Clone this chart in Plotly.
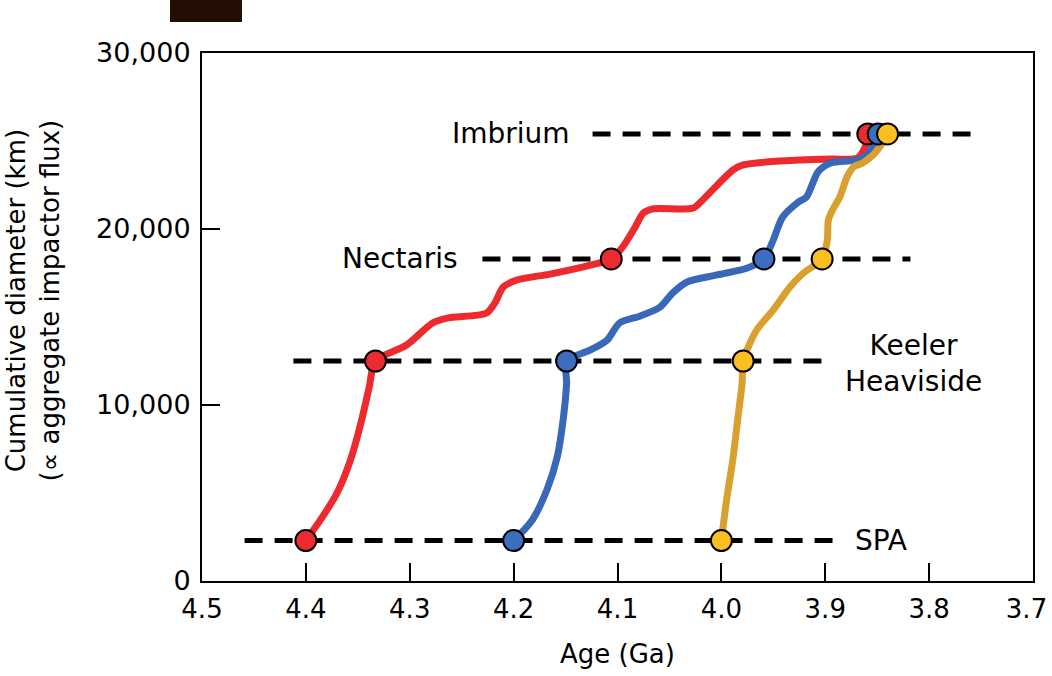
import plotly.graph_objects as go

# ---------------- data ----------------
basins = ["SPA", "Keeler Heaviside", "Nectaris", "Imbrium"]
basin_diam = [2300, 12500, 18300, 25400]
basin_line_start = [4.459, 4.412, 4.230, 4.124]
basin_line_end = [3.893, 3.893, 3.818, 3.753]

red_basin_age = [4.400, 4.333, 4.106, 3.859]
blue_basin_age = [4.200, 4.149, 3.959, 3.849]
yellow_basin_age = [4.000, 3.979, 3.903, 3.840]

red_age = [4.400, 4.386, 4.370, 4.357, 4.347, 4.339, 4.333, 4.303, 4.278, 4.264,
           4.226, 4.218, 4.210, 4.197, 4.165, 4.126, 4.106, 4.095, 4.083, 4.075,
           4.066, 4.027, 4.018, 3.989, 3.979, 3.944, 3.895, 3.869, 3.862, 3.859]
red_diam = [2300, 3470, 5000, 6880, 8980, 11020, 12500, 13410, 14660, 14940,
            15230, 15800, 16700, 17100, 17440, 17950, 18300, 18980, 20110, 20910,
            21140, 21190, 21650, 23350, 23640, 23860, 23980, 24030, 24600, 25400]

blue_age = [4.200, 4.182, 4.168, 4.158, 4.152, 4.149, 4.149, 4.126, 4.110, 4.098,
            4.078, 4.059, 4.047, 4.033, 4.004, 3.975, 3.959, 3.950, 3.941, 3.927,
            3.918, 3.912, 3.907, 3.895, 3.869, 3.860, 3.852, 3.849]
blue_diam = [2300, 3470, 5170, 7050, 9320, 11250, 12500, 13130, 13690, 14660,
             15060, 15570, 16360, 16990, 17390, 17780, 18300, 19380, 20680, 21480,
             21820, 22610, 23240, 23750, 23920, 24200, 24890, 25400]

yellow_age = [4.000, 3.995, 3.989, 3.984, 3.980, 3.979, 3.966, 3.950, 3.934, 3.921,
              3.903, 3.898, 3.897, 3.893, 3.886, 3.879, 3.873, 3.864, 3.854, 3.845,
              3.840]
yellow_diam = [2300, 4600, 6880, 9320, 11250, 12500, 14260, 15400, 16700, 17500,
               18300, 19380, 20510, 21080, 21820, 22960, 23520, 23750, 24200, 24890,
               25400]

x_ticks = [4.5, 4.4, 4.3, 4.2, 4.1, 4.0, 3.9, 3.8, 3.7]
x_tick_labels = ["4.5", "4.4", "4.3", "4.2", "4.1", "4.0", "3.9", "3.8", "3.7\u2002"]
y_ticks = [0, 10000, 20000, 30000]
y_tick_labels = ["0", "10,000", "20,000", "30,000"]

# ---------------- styles ----------------
FONT = "DejaVu Sans"
RED_LINE, RED_MARK = "#ED2A2E", "#EC2B31"
BLUE_LINE, BLUE_MARK = "#3A68B8", "#3D6DBE"
YEL_LINE, YEL_MARK = "#D9A030", "#FCBF22"

fig = go.Figure()

# dashed basin reference lines
for d, xs, xe in zip(basin_diam, basin_line_start, basin_line_end):
    fig.add_trace(go.Scatter(x=[xs, xe], y=[d, d], mode="lines",
                             line=dict(color="black", width=5, dash="18px,12px"),
                             hoverinfo="skip", showlegend=False))

# curves
for ages, diams, col in [(red_age, red_diam, RED_LINE),
                         (blue_age, blue_diam, BLUE_LINE),
                         (yellow_age, yellow_diam, YEL_LINE)]:
    fig.add_trace(go.Scatter(x=ages, y=diams, mode="lines",
                             line=dict(color=col, width=7, shape="spline", smoothing=0.8),
                             showlegend=False))

# markers
for ages, col in [(red_basin_age, RED_MARK), (blue_basin_age, BLUE_MARK),
                  (yellow_basin_age, YEL_MARK)]:
    fig.add_trace(go.Scatter(x=ages, y=basin_diam, mode="markers",
                             marker=dict(color=col, size=21,
                                         line=dict(color="black", width=2)),
                             showlegend=False))

# basin labels
lab_font = dict(family=FONT, size=28, color="black")
fig.add_annotation(x=4.144, y=basin_diam[3], text="Imbrium", showarrow=False,
                   xanchor="right", yanchor="middle", font=lab_font)
fig.add_annotation(x=4.252, y=basin_diam[2], text="Nectaris", showarrow=False,
                   xanchor="right", yanchor="middle", font=lab_font)
fig.add_annotation(x=3.815, y=12330, text="Keeler<br>Heaviside", showarrow=False,
                   xanchor="center", yanchor="middle", font=lab_font)
fig.add_annotation(x=3.873, y=basin_diam[0], text="SPA", showarrow=False,
                   xanchor="left", yanchor="middle", font=lab_font)

# y axis title (two lines, rotated)
fig.add_annotation(xref="paper", yref="paper", x=-0.203, y=0.532,
                   text="Cumulative diameter (km)<br>(∝ aggregate impactor flux)",
                   showarrow=False, textangle=-90, xanchor="center", yanchor="middle",
                   font=dict(family=FONT, size=26, color="black"))

# dark rectangle at top left
fig.add_shape(type="rect", xref="paper", yref="paper",
              x0=-0.0385, x1=0.0481, y0=1.0587, y1=1.1004,
              fillcolor="#230D04", line=dict(width=0))

fig.update_layout(
    width=1052, height=676,
    margin=dict(l=202, r=19, t=53, b=95, autoexpand=False),
    paper_bgcolor="white", plot_bgcolor="white",
    font=dict(family=FONT, color="black"),
    showlegend=False,
)
fig.update_xaxes(range=[4.5, 3.7], tickvals=x_ticks, ticktext=x_tick_labels,
                 ticks="inside", ticklen=18, tickwidth=2, tickcolor="black",
                 showline=True, linewidth=2, linecolor="black", mirror=True,
                 showgrid=False, zeroline=False, ticklabeloverflow="allow",
                 automargin=False, ticklabelstandoff=4,
                 tickfont=dict(family=FONT, size=26, color="black"),
                 title=dict(text="Age (Ga)", font=dict(family=FONT, size=26, color="black"),
                            standoff=22))
fig.update_yaxes(range=[0, 30000], tickvals=y_ticks, ticktext=y_tick_labels,
                 ticks="inside", ticklen=18, tickwidth=2, tickcolor="black",
                 showline=True, linewidth=2, linecolor="black", mirror=True,
                 showgrid=False, zeroline=False, ticklabelstandoff=4,
                 automargin=False,
                 tickfont=dict(family=FONT, size=27, color="black"))

fig.write_html("out.html", config={"displayModeBar": False},
               post_script="document.body.style.margin='0';document.body.style.overflow='hidden';")
